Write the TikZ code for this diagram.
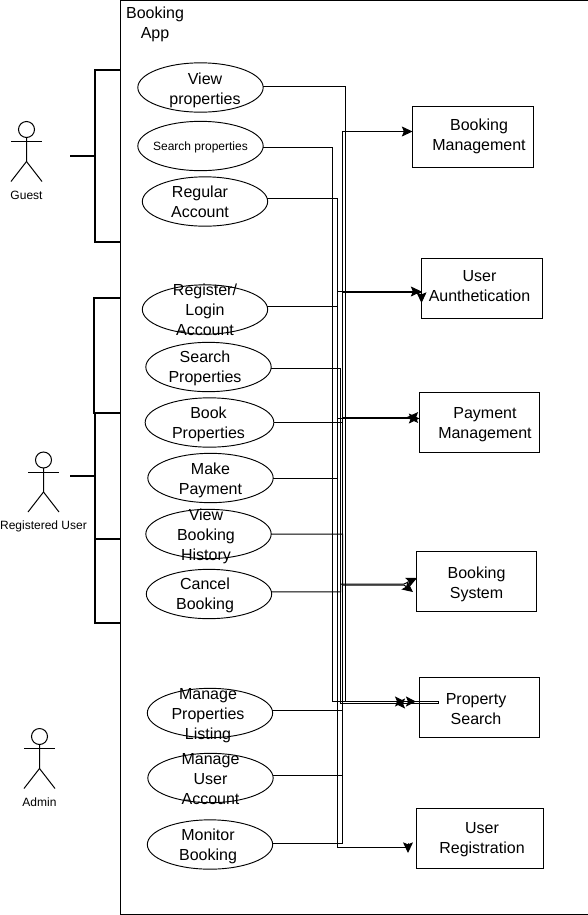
\documentclass[tikz,border=0pt]{standalone}
\usepackage{fontspec}
\setmainfont{Liberation Sans}
\usetikzlibrary{shapes.geometric,arrows.meta,decorations.markings}

\newcommand{\nudged}[3]{\makebox[0pt]{\kern#1\raisebox{\dimexpr#2-4.5pt\relax}[0pt][0pt]{\begin{tabular}{@{}c@{}}#3\end{tabular}}\kern-#1}}

\begin{document}
\begin{tikzpicture}[
    x=0.75pt, y=-0.75pt,
    >={Stealth[length=8pt,width=7.5pt,inset=1.5pt]},
    every node/.style={font=\fontsize{12}{15}\selectfont},
    usecase/.style={
        draw,
        ellipse,
        line width=0.7pt,
        inner sep=0pt,
        outer sep=0pt,
        minimum width=94pt,
        minimum height=37pt
    },
    appbox/.style={
        draw,
        line width=0.75pt,
        inner sep=0pt,
        outer sep=0pt,
        minimum width=90.75pt,
        minimum height=45pt
    },
    actorname/.style={font=\fontsize{9}{11}\selectfont},
    conn/.style={line width=0.75pt},
    arr/.style={->, line width=0.75pt},
    revarr/.style={-{Stealth[length=9pt,width=8pt,inset=1.5pt,reversed]}, line width=0.75pt},
    midhead/.style={
        postaction={decorate},
        decoration={markings, mark=at position #1 with {\arrow{Stealth[length=7.5pt,width=7.5pt,inset=1.5pt]}}}
    },
    revhead/.style={
        postaction={decorate},
        decoration={markings, mark=at position #1 with {\arrow{Stealth[length=7.5pt,width=7.5pt,inset=1.5pt,reversed]}}}
    },
    bracket/.style={line width=1.5pt},
    actor/.pic={
        \draw[line width=0.75pt] (0,-12) circle (8);
        \draw[line width=0.75pt] (-15.5,0) -- (15.5,0);
        \draw[line width=0.75pt] (0,-4) -- (0,20) -- (-15.5,40);
        \draw[line width=0.75pt] (0,20) -- (15.5,40);
    }
]
    \useasboundingbox (0,0) rectangle (588,915);

    % System frame
    \draw[line width=0.75pt] (588,0.5) -- (120.5,0.5) -- (120.5,914.5) -- (588,914.5);
    \node (apptitle) at (155,22) {\nudged{0pt}{0pt}{Booking\\App}};

    % Actors
    \pic (guest) at (26.5,141.5) {actor};
    \node[actorname] (guestname) at (26.5,195) {Guest};
    \pic (reguser) at (43.5,472) {actor};
    \node[actorname] (regusername) at (43.5,526) {Registered User};
    \pic (admin) at (39.5,748.5) {actor};
    \node[actorname] (adminname) at (39.5,802) {Admin};

    % Brackets from actors to frame
    \coordinate (guesttop) at (120,70);
    \coordinate (guestbottom) at (120,242);
    \coordinate (gueststub) at (70,156);
    \coordinate (regtop) at (120,298);
    \coordinate (regmiddle) at (120,413);
    \coordinate (reglower) at (120,539);
    \coordinate (regbottom) at (120,623);
    \coordinate (regstub) at (70,476);

    \draw[bracket] (guesttop) -- (95,70) -- (95,242) -- (guestbottom);
    \draw[bracket] (gueststub) -- (95,156);
    \draw[bracket] (regtop) -- (94,298) -- (94,413) -- (regmiddle);
    \draw[bracket] (regmiddle) -- (95,413) -- (95,623) -- (regbottom);
    \draw[bracket] (reglower) -- (95,539);
    \draw[bracket] (regstub) -- (95,476);

    % Use cases
    \node[usecase] (viewprops) at (200.5,87.5) {\nudged{3.4pt}{-.75pt}{View\\properties}};
    \node[usecase] (searchprops) at (200.5,146) {\nudged{0pt}{1pt}{\fontsize{9}{11}\selectfont Search properties}};
    \node[usecase] (regular) at (205,201.5) {\nudged{-3.75pt}{0pt}{Regular\\Account}};
    \node[usecase] (register) at (205,309.5) {\nudged{0pt}{0pt}{Register/\\Login\\Account}};
    \node[usecase] (searchproperties) at (208.5,367) {\nudged{-2.6pt}{.75pt}{Search\\Properties}};
    \node[usecase, minimum width=96.5pt] (bookprops) at (209.5,422.5) {\nudged{-.75pt}{0pt}{Book\\Properties}};
    \node[usecase] (makepay) at (210.5,478) {\nudged{0pt}{0pt}{Make\\Payment}};
    \node[usecase] (history) at (208.5,534) {\nudged{-1.9pt}{0pt}{View\\Booking\\History}};
    \node[usecase] (cancel) at (209,594) {\nudged{-3pt}{.75pt}{Cancel\\Booking}};
    \node[usecase] (manageprops) at (210,713) {\nudged{-1.5pt}{0pt}{Manage\\Properties\\Listing}};
    \node[usecase] (manageuser) at (210.5,778) {\nudged{0pt}{0pt}{Manage\\User\\Account}};
    \node[usecase] (monitor) at (210,844.5) {\nudged{-1.5pt}{0pt}{Monitor\\Booking}};

    % Target boxes
    \node[appbox, minimum height=45.75pt] (bookingmgmt) at (473,137) {\nudged{4.5pt}{1.9pt}{Booking\\Management}};
    \node[appbox] (userauth) at (482,288.5) {\nudged{-1.9pt}{2.25pt}{User\\Aunthetication}};
    \node[appbox, minimum width=90pt] (payment) at (479.5,422) {\nudged{4.1pt}{0pt}{Payment\\Management}};
    \node[appbox, minimum width=90pt] (bookingsys) at (476.5,581.5) {\nudged{0pt}{-.75pt}{Booking\\System}};
    \node[appbox, minimum width=90pt] (propsearch) at (479.5,707.5) {\nudged{-2.6pt}{-.75pt}{Property\\Search}};
    \node[appbox, minimum width=95.25pt] (userreg) at (480,838.5) {\nudged{1.5pt}{.75pt}{User\\Registration}};

    % Connector ends
    \coordinate (bookingin) at (412.5,131.5);
    \coordinate (authin) at (421.5,291.5);
    \coordinate (authdown) at (421.5,303);
    \coordinate (payin) at (419.5,418.5);
    \coordinate (payback) at (418,417.5);
    \coordinate (sysup) at (417,578);
    \coordinate (sysdown) at (413,592);
    \coordinate (propupper) at (438.5,701.5);
    \coordinate (proplower) at (438.5,703.5);
    \coordinate (regdown) at (408,853);

    % Connectors
    \draw[conn, midhead=-25.1pt] (viewprops.1.8) -| (345.5,400) |- (propupper);
    \draw[conn, midhead=-16.9pt] (searchprops.-1.4) -| (332.5,400) |- (propupper);
    \draw[arr] (regular.3.6) -| (337.5,500) -- (337.5,847.5) -- (408,847.5) -- (408,843) -- (regdown);
    \draw[arr] (register.3.6) -| (337.5,291.5) -- (authin);
    \draw[conn, revhead=-25.1pt] (searchproperties.-1.4) -| (340.5,500) |- (proplower);
    \draw[revarr] (bookprops.east) -| (342.5,417.5) -- (payback);
    \draw[arr] (makepay.0.5) -| (337.5,418.5) -- (payin);
    \draw[arr] (history.0.5) -| (342.5,585) -- (404,585) -- (sysdown);
    \draw[arr] (cancel.2.3) -| (340.5,584) -- (404,584) -- (sysup);
    \draw[arr] (manageprops.2.3) -| (342.5,131.5) -- (bookingin);
    \draw[arr] (manageuser.2.3) -| (342.5,292.5) -- (421.5,292.5) -- (421.5,290) -- (authdown);
    \draw[conn] (monitor.1.8) -| (342.5,700);
    \draw[conn] (propupper) -- (proplower);
\end{tikzpicture}
\end{document}
